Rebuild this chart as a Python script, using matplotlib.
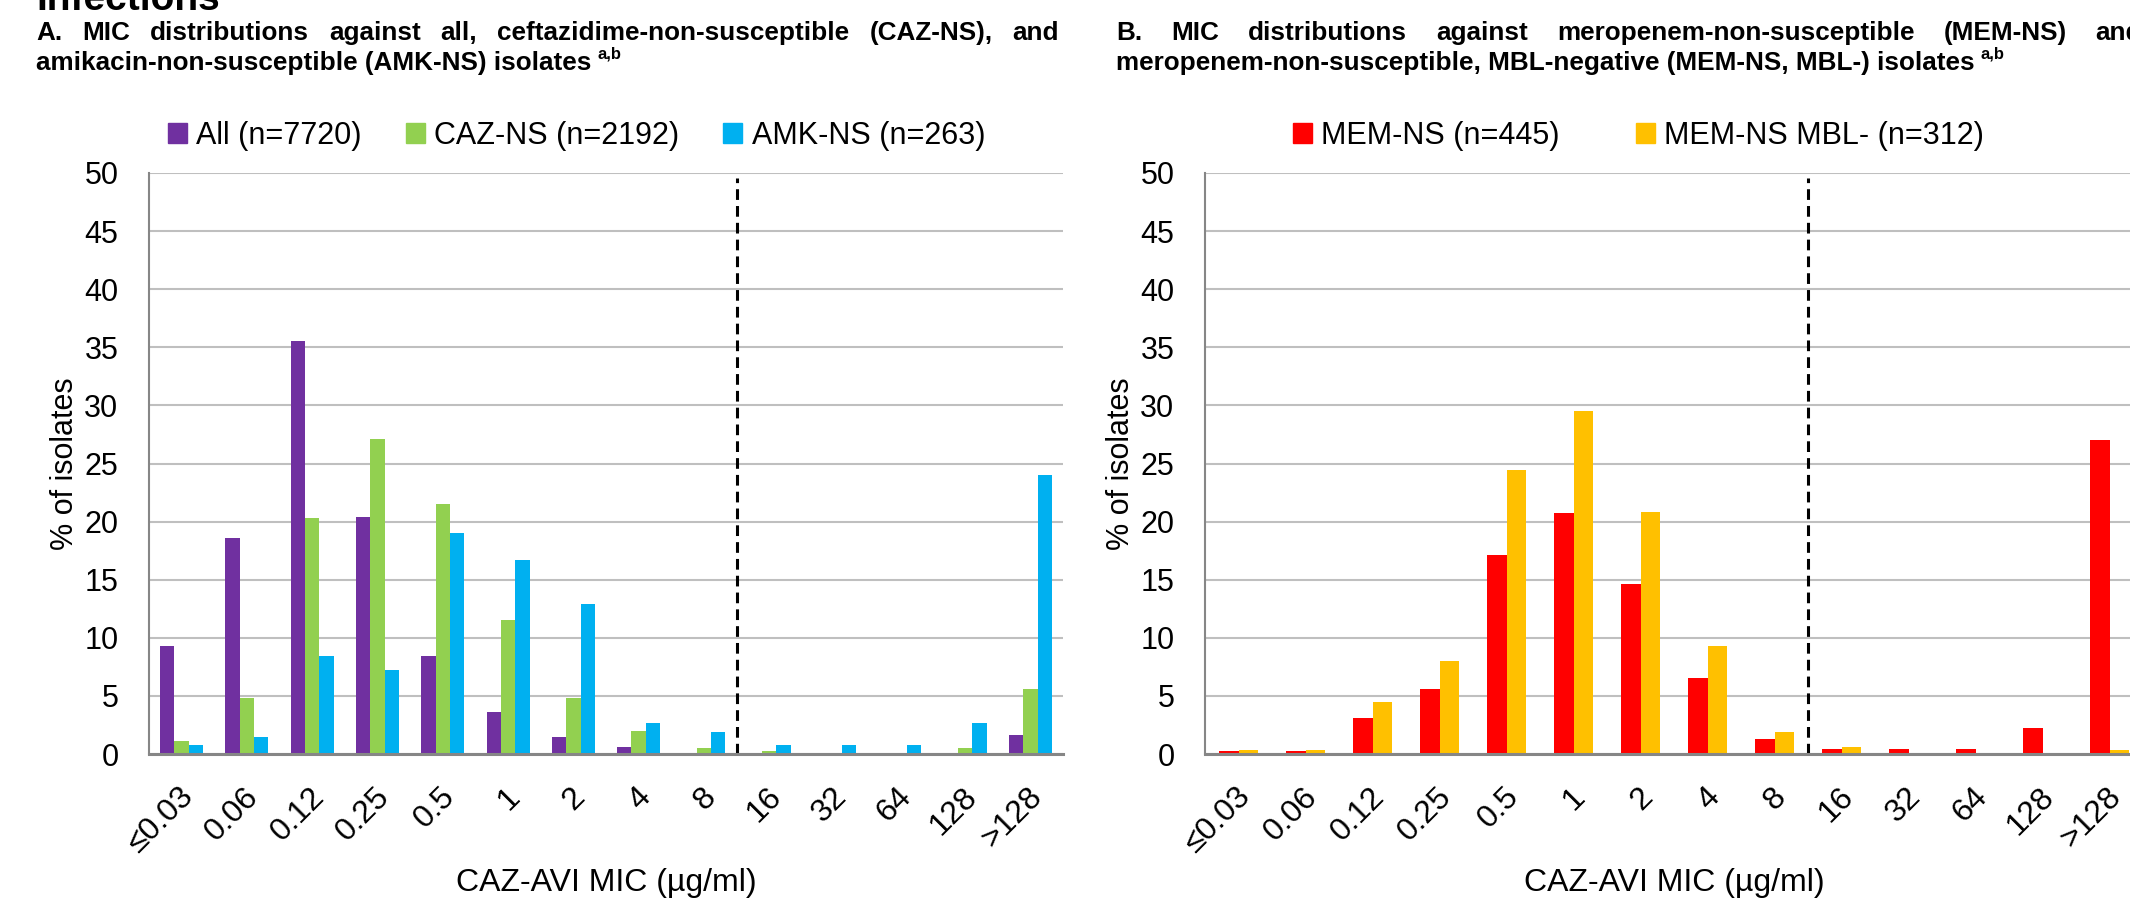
import numpy as np
import matplotlib
matplotlib.use("Agg")
import matplotlib.pyplot as plt
import matplotlib.transforms as mtrans
from matplotlib.patches import Patch

# MIC categories (CAZ-AVI, ug/ml)
mic_labels = ["≤0.03", "0.06", "0.12", "0.25", "0.5", "1", "2", "4", "8",
              "16", "32", "64", "128", ">128"]

# Panel A: % of isolates
all_pct = [9.3, 18.6, 35.5, 20.4, 8.4, 3.6, 1.5, 0.6, 0.1, 0.05, 0, 0, 0.1, 1.6]
caz_ns_pct = [1.1, 4.8, 20.3, 27.1, 21.5, 11.5, 4.8, 2.0, 0.5, 0.3, 0.1, 0.1, 0.5, 5.6]
amk_ns_pct = [0.76, 1.5, 8.4, 7.2, 19.0, 16.7, 12.9, 2.7, 1.9, 0.76, 0.76, 0.76, 2.7, 24.0]

# Panel B: % of isolates
mem_ns_pct = [0.22, 0.22, 3.1, 5.6, 17.1, 20.7, 14.6, 6.5, 1.3, 0.45, 0.45, 0.45, 2.2, 27.0]
mem_mbl_neg_pct = [0.32, 0.32, 4.5, 8.0, 24.4, 29.5, 20.8, 9.3, 1.9, 0.64, 0, 0, 0, 0.32]

labels_a = ["All (n=7720)", "CAZ-NS (n=2192)", "AMK-NS (n=263)"]
labels_b = ["MEM-NS (n=445)", "MEM-NS MBL- (n=312)"]
colors_a = ["#7030A0", "#92D050", "#00B0F0"]
colors_b = ["#FF0000", "#FFC000"]

plt.rcParams["font.family"] = ["Liberation Sans Narrow", "Liberation Sans", "DejaVu Sans"]

W, H = 2130, 899
fig = plt.figure(figsize=(W / 100, H / 100), dpi=100)


def px_axes(l, t, r, b):
    return fig.add_axes([l / W, 1 - b / H, (r - l) / W, (b - t) / H])


def style(ax, ylabel_px):
    x = np.arange(len(mic_labels))
    ax.set_xlim(-0.5, len(mic_labels) - 0.5)
    ax.set_ylim(0, 50)
    ax.set_yticks(range(0, 51, 5))
    ax.yaxis.grid(True, color="#BFBFBF", lw=1.5)
    ax.set_axisbelow(True)
    for s in ["top", "right"]:
        ax.spines[s].set_visible(False)
    ax.spines["left"].set_color("#868686")
    ax.spines["left"].set_linewidth(1.5)
    ax.spines["bottom"].set_color("#868686")
    ax.spines["bottom"].set_linewidth(2.2)
    ax.tick_params(axis="y", length=0, labelsize=22, pad=22)
    ax.tick_params(axis="x", length=0, labelsize=23, pad=20)
    ax.set_xticks(x)
    ax.set_xticklabels(mic_labels, rotation=45, ha="right", va="top")
    shift = mtrans.ScaledTranslation(18 / 100, 0, fig.dpi_scale_trans)
    for lab in ax.get_xticklabels():
        lab.set_transform(lab.get_transform() + shift)
    bbox = ax.get_position()
    ax.set_ylabel("% of isolates", fontsize=22)
    ax.yaxis.set_label_coords(ylabel_px / (bbox.width * W), 0.5)
    ax.set_xlabel("CAZ-AVI MIC (µg/ml)", fontsize=23)
    ax.xaxis.set_label_coords(0.5, -114 / (bbox.height * H))
    ax.vlines(8.5, 0, 49.6, color="black", lw=2.2, linestyles=(0, (3.5, 2)))


x = np.arange(len(mic_labels))

# Panel A
axA = px_axes(149, 173, 1063, 754)
wa = 0.22
for i, (vals, c) in enumerate(zip([all_pct, caz_ns_pct, amk_ns_pct], colors_a)):
    axA.bar(x + (i - 1) * wa, vals, wa, color=c)
style(axA, -69)

# Panel B
axB = px_axes(1205, 173, 2143, 754)
wb = 0.29
for i, (vals, c) in enumerate(zip([mem_ns_pct, mem_mbl_neg_pct], colors_b)):
    axB.bar(x + (i - 0.5) * wb, vals, wb, color=c)
style(axB, -69)

# legends
leg_kw = dict(loc="center left", frameon=False, fontsize=22, borderpad=0,
              borderaxespad=0, handlelength=0.62, handleheight=0.62,
              handletextpad=0.3)
fig.legend([Patch(color=c) for c in colors_a], labels_a, ncol=3,
           bbox_to_anchor=(168 / W, 1 - 136 / H), columnspacing=1.45, **leg_kw)
fig.legend([Patch(color=c) for c in colors_b], labels_b, ncol=2,
           bbox_to_anchor=(1293 / W, 1 - 136 / H), columnspacing=2.5, **leg_kw)

# titles (first line justified like the source)
renderer = fig.canvas.get_renderer()
title_kw = dict(fontsize=18.8, fontweight="bold", va="center")


def justified(text, x0, x1, y, **kw):
    ts = [fig.text(x0 / W, y, w, **kw) for w in text.split()]
    widths = [t.get_window_extent(renderer).width for t in ts]
    gap = (x1 - x0 - sum(widths)) / (len(ts) - 1)
    pos = x0
    for t, w in zip(ts, widths):
        t.set_x(pos / W)
        pos += w + gap


def second_line(text, x0, y):
    t = fig.text(x0 / W, y, text, **title_kw)
    end = t.get_window_extent(renderer).x1
    fig.text((end + 6) / W, y + 9 / H, "a,b", fontsize=12, fontweight="bold", va="center")


justified("A. MIC distributions against all, ceftazidime-non-susceptible (CAZ-NS), and",
          36, 1059, 1 - 33 / H, **title_kw)
second_line("amikacin-non-susceptible (AMK-NS) isolates", 36, 1 - 63 / H)
justified("B. MIC distributions against meropenem-non-susceptible (MEM-NS) and",
          1116, 2142, 1 - 33 / H, **title_kw)
second_line("meropenem-non-susceptible, MBL-negative (MEM-NS, MBL-) isolates", 1116, 1 - 63 / H)

fig.text(36 / W, 1 - 10 / H, "Infections", fontsize=28, fontweight="bold",
         family=["Liberation Sans", "DejaVu Sans"], va="baseline")

fig.savefig("out.png", dpi=100)
